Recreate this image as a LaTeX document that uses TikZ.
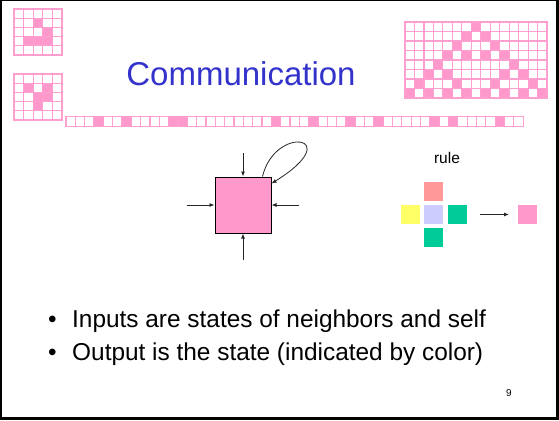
\documentclass[tikz,border=0pt]{standalone}
\usepackage{fontspec}
\setmainfont{Liberation Sans}
\usetikzlibrary{arrows.meta}

\definecolor{cellpink}{HTML}{FF99CC}
\definecolor{gridpink}{HTML}{FF9FCF}
\definecolor{titleblue}{HTML}{3333CC}
\definecolor{rulered}{HTML}{FF9999}
\definecolor{ruleyellow}{HTML}{FFFF66}
\definecolor{rulelavender}{HTML}{CCCCFF}
\definecolor{rulegreen}{HTML}{00CC99}

\tikzset{
  gridcell/.style={draw=gridpink, line width=1.2pt, fill=white},
  cellon/.style={draw=gridpink, line width=1.2pt, fill=cellpink},
  arr/.style={draw=black!85, line width=0.8pt, -{Latex[length=5pt,width=4pt]}},
  swatch/.style={minimum size=19pt, inner sep=0pt, outer sep=0pt},
  bullettext/.style={anchor=base west, inner sep=0pt, font=\fontsize{24.4}{28}\selectfont}
}

\begin{document}
\begin{tikzpicture}[x=1pt, y=-1pt]
  % slide frame
  \fill[black] (0,0) rectangle (559,420);
  \fill[white] (2,1) rectangle (556,417);
  \useasboundingbox (0,0) rectangle (559,420);

  % glider, first phase (5x5)
  \foreach \r in {0,...,4}{
    \foreach \c in {0,...,4}{
      \draw[gridcell] ({14+9.6*\c},{9+9.2*\r}) rectangle +(9.6,9.2);
    }
  }
  \foreach \c/\r in {2/1,3/2,1/3,2/3,3/3}
    \draw[cellon] ({14+9.6*\c},{9+9.2*\r}) rectangle +(9.6,9.2);

  % glider, next phase (5x5)
  \foreach \r in {0,...,4}{
    \foreach \c in {0,...,4}{
      \draw[gridcell] ({14+9.6*\c},{74+9.2*\r}) rectangle +(9.6,9.2);
    }
  }
  \foreach \c/\r in {1/1,3/1,2/2,3/2,2/3}
    \draw[cellon] ({14+9.6*\c},{74+9.2*\r}) rectangle +(9.6,9.2);

  % one-dimensional automaton, 15x8 history
  \foreach \r in {0,...,7}{
    \foreach \c in {0,...,14}{
      \draw[gridcell] ({405+9.47*\c},{22+9.5*\r}) rectangle +(9.47,9.5);
    }
  }
  \foreach \c/\r in {7/0, 6/1,8/1, 5/2,9/2, 4/3,6/3,8/3,10/3, 3/4,11/4,
                     2/5,4/5,10/5,12/5, 1/6,5/6,9/6,13/6,
                     0/7,2/7,4/7,6/7,8/7,10/7,12/7,14/7}
    \draw[cellon] ({405+9.47*\c},{22+9.5*\r}) rectangle +(9.47,9.5);

  % single row strip
  \foreach \c in {0,...,48}
    \draw[gridcell] ({66+9.33*\c},116.5) rectangle +(9.33,9.8);
  \foreach \c in {3,6,11,12,22,26,30,33,39,41,46}
    \draw[cellon] ({66+9.33*\c},116.5) rectangle +(9.33,9.8);

  % title
  \node[anchor=base, inner sep=0pt, text=titleblue,
        font=\fontsize{33}{38}\selectfont] (title) at (241,85) {Communication};

  % cell with neighbour inputs and self loop
  \node[draw=black, line width=1pt, fill=cellpink, minimum size=56pt,
        inner sep=0pt] (cell) at (243,205) {};
  \coordinate (inN) at (243,153);
  \coordinate (inS) at (243,260);
  \coordinate (inW) at (187,205);
  \coordinate (inE) at (299,205);
  \draw[arr] (inN) -- (cell.north);
  \draw[arr] (inS) -- (cell.south);
  \draw[arr] (inW) -- (cell.west);
  \draw[arr] (inE) -- (cell.east);
  \draw[arr] ([xshift=-9pt]cell.north east)
     .. controls (275,124) and (348,136) .. ([yshift=-7pt]cell.north east);

  % rule
  \node[anchor=base, inner sep=0pt, font=\fontsize{15.5}{18}\selectfont]
       (rulelabel) at (447,163) {rule};
  \node[swatch, fill=rulered]      (ruleN) at (433.5,191.2) {};
  \node[swatch, fill=ruleyellow]   (ruleW) at (410.5,214.5) {};
  \node[swatch, fill=rulelavender] (ruleC) at (433.5,214.5) {};
  \node[swatch, fill=rulegreen]    (ruleE) at (457.5,214.5) {};
  \node[swatch, fill=rulegreen]    (ruleS) at (433.5,237.2) {};
  \node[swatch, fill=cellpink]     (result) at (527.5,214.5) {};
  \draw[arr, shorten <=13pt, shorten >=9pt] (ruleE.east) -- (result.west);

  % bullets
  \node[bullettext] (b1) at (48,327) {•};
  \node[bullettext] (t1) at (72,327) {Inputs are states of neighbors and self};
  \node[bullettext] (b2) at (48,360) {•};
  \node[bullettext] (t2) at (72,360) {Output is the state (indicated by color)};

  % page number
  \node[anchor=base, inner sep=0pt, font=\fontsize{10}{12}\selectfont]
       (pagenum) at (509,396) {9};
\end{tikzpicture}
\end{document}
